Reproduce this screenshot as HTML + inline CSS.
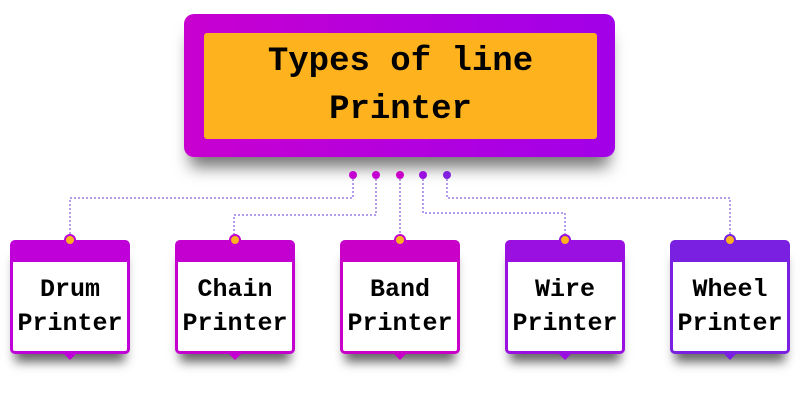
<!DOCTYPE html>
<html><head><style>
body{margin:0;width:800px;height:400px;background:#fff;position:relative;overflow:hidden;font-family:"Liberation Mono","DejaVu Sans Mono",monospace;font-weight:bold;}
.outer{position:absolute;left:184px;top:14px;width:431px;height:143px;border-radius:10px;background:linear-gradient(90deg,#c800d0,#b000e0 60%,#a200e8);box-shadow:0 16px 16px -6px rgba(0,0,0,.55);}
.inner{position:absolute;left:20px;top:19px;width:393px;height:106px;background:#fdb21e;border-radius:3px;text-align:center;font-size:34px;line-height:48px;padding-top:5px;box-sizing:border-box;color:#000;}
.card{position:absolute;top:240px;width:120px;height:114px;box-sizing:border-box;border:3px solid;border-top-width:22px;border-radius:5px;background:#fff;text-align:center;font-size:25px;line-height:34px;padding-top:11px;color:#000;box-shadow:0 13px 10px -5px rgba(0,0,0,.6);}
.card .d{position:absolute;left:50%;top:-28px;margin-left:-6px;width:8px;height:8px;border-radius:50%;background:#fdb21e;border:2px solid;}
.card .p{position:absolute;left:50%;bottom:-9px;margin-left:-6px;width:0;height:0;border-left:6px solid transparent;border-right:6px solid transparent;border-top:6px solid;}
.dot{position:absolute;top:171px;width:8px;height:8px;border-radius:50%;}
</style></head><body>
<div class="outer"><div class="inner">Types of line<br>Printer</div></div>
<svg width="800" height="400" style="position:absolute;left:0;top:0">
<g fill="none" stroke="#6a3ad8" stroke-width="1" stroke-dasharray="2,2">
<path d="M353 175V198H70V238"/>
<path d="M376 175V215H234V238"/>
<path d="M400 175V238"/>
<path d="M423 175V213H565V238"/>
<path d="M447 175V198H730V238"/>
</g></svg>
<div class="dot" style="left:349px;background:#c400d0"></div>
<div class="dot" style="left:372px;background:#c400d0"></div>
<div class="dot" style="left:396px;background:#c800c8"></div>
<div class="dot" style="left:419px;background:#9a10e0"></div>
<div class="dot" style="left:443px;background:#8020e0"></div>
<div class="card" style="left:10px;border-color:#c000d8;color:#000"><span class="d" style="border-color:#c000d8"></span>Drum<br>Printer<span class="p" style="border-top-color:#c000d8"></span></div>
<div class="card" style="left:175px;border-color:#c400d0"><span class="d" style="border-color:#c400d0"></span>Chain<br>Printer<span class="p" style="border-top-color:#c400d0"></span></div>
<div class="card" style="left:340px;border-color:#c800c8"><span class="d" style="border-color:#c800c8"></span>Band<br>Printer<span class="p" style="border-top-color:#c800c8"></span></div>
<div class="card" style="left:505px;border-color:#9a10e0"><span class="d" style="border-color:#9a10e0"></span>Wire<br>Printer<span class="p" style="border-top-color:#9a10e0"></span></div>
<div class="card" style="left:670px;border-color:#7a20e0"><span class="d" style="border-color:#7a20e0"></span>Wheel<br>Printer<span class="p" style="border-top-color:#7a20e0"></span></div>
</body></html>
